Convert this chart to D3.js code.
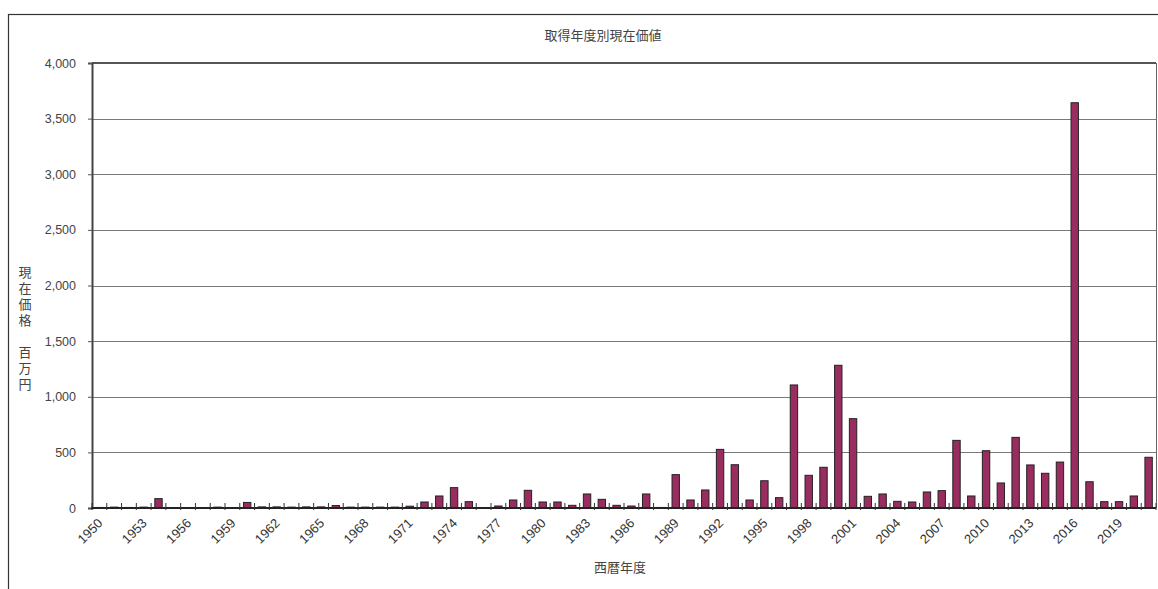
<!DOCTYPE html>
<html>
<head>
<meta charset="utf-8">
<script src="https://cdn.jsdelivr.net/npm/d3@7"></script>
<style>
  html, body { margin: 0; padding: 0; background: #fff; }
  svg { display: block; }
</style>
</head>
<body>
<svg id="chart" width="1158" height="589"></svg>
<script>
const years = d3.range(1950, 2022);
const values = [
  5, 8, 5, 8, 84, 2, 2, 3, 8, 3,
  50, 10, 10, 8, 10, 10, 22, 8, 8, 8,
  8, 16, 54, 108, 183, 57, 4, 18, 72, 159,
  54, 54, 24, 126, 78, 24, 18, 126, 5, 300,
  72, 162, 527, 389, 72, 245, 93, 1106, 294, 366,
  1283, 803, 105, 126, 60, 54, 144, 156, 608, 108,
  515, 225, 635, 387, 312, 413, 3643, 236, 57, 57,
  108, 456
];
const yTicks = [0, 500, 1000, 1500, 2000, 2500, 3000, 3500, 4000];
const labelYears = years.filter((y, i) => i % 3 === 0);
const title = "取得年度別現在価値";
const xTitle = "西暦年度";
const yTitle = "現在価格　百万円";

(function () {
const svg = d3.select("#chart");
const pL = 92, pR = 1156, pT = 63, pB = 508;
const jpFont = "'Noto Sans CJK JP', sans-serif";
const numFont = "'Liberation Sans', Arial, sans-serif";

// outer frame
svg.append("rect").attr("x", 8.5).attr("y", 14.5).attr("width", 1170).attr("height", 600)
  .attr("fill", "none").attr("stroke", "#333").attr("stroke-width", 1.2);

const x = d3.scaleBand().domain(years).range([pL, pR]).paddingInner(0.5).paddingOuter(0.25);
const y = d3.scaleLinear().domain([0, 4000]).range([pB, pT]);

// gridlines
svg.append("g").selectAll("line").data(yTicks.filter(v => v > 0 && v < 4000)).join("line")
  .attr("x1", pL).attr("x2", pR)
  .attr("y1", d => Math.round(y(d)) + 0.5).attr("y2", d => Math.round(y(d)) + 0.5)
  .attr("stroke", "#7a7a7a").attr("stroke-width", 1);

// top and right border of plot
svg.append("line").attr("x1", pL).attr("x2", pR).attr("y1", y(4000)).attr("y2", y(4000))
  .attr("stroke", "#555").attr("stroke-width", 2);
svg.append("line").attr("x1", pR + 0.5).attr("x2", pR + 0.5).attr("y1", pT).attr("y2", pB)
  .attr("stroke", "#666").attr("stroke-width", 1);

// bars
svg.append("g").selectAll("rect").data(years).join("rect")
  .attr("x", d => x(d))
  .attr("width", x.bandwidth())
  .attr("y", (d, i) => y(values[i]))
  .attr("height", (d, i) => pB - y(values[i]))
  .attr("fill", "#992d60")
  .attr("stroke", "#222")
  .attr("stroke-width", 1);

// y axis
const yAxis = d3.axisLeft(y).tickValues(yTicks).tickSize(4).tickPadding(12)
  .tickFormat(d3.format(","));
const yg = svg.append("g").attr("transform", `translate(${pL},0)`).call(yAxis);
yg.select(".domain").attr("stroke", "#444").attr("stroke-width", 2);
yg.selectAll(".tick line").attr("stroke", "#555");
yg.selectAll(".tick text").attr("font-family", numFont).attr("font-size", 12.5).attr("fill", "#444");

// x axis baseline
svg.append("line").attr("x1", pL - 1).attr("x2", pR).attr("y1", pB).attr("y2", pB)
  .attr("stroke", "#222").attr("stroke-width", 2);

// category boundary ticks
const gap = (x.step() - x.bandwidth()) / 2;
const bounds = years.map(d => x(d) - gap).concat([x(years[years.length - 1]) + x.bandwidth() + gap]);
svg.append("g").selectAll("line").data(bounds).join("line")
  .attr("x1", d => d).attr("x2", d => d)
  .attr("y1", pB - 5).attr("y2", pB + 2)
  .attr("stroke", "#333").attr("stroke-width", 1);

// x labels
svg.append("g").selectAll("text").data(labelYears).join("text")
  .attr("transform", d => `translate(${x(d) + x.bandwidth() / 2 + 4},${pB + 16}) rotate(-45)`)
  .attr("text-anchor", "end")
  .attr("font-family", numFont).attr("font-size", 13).attr("fill", "#333")
  .text(d => d);

// title
svg.append("text").attr("x", 603).attr("y", 40).attr("text-anchor", "middle")
  .attr("font-family", jpFont).attr("font-size", 13).attr("fill", "#444").text(title);

// x title
svg.append("text").attr("x", 620).attr("y", 572).attr("text-anchor", "middle")
  .attr("font-family", jpFont).attr("font-size", 13).attr("fill", "#444").text(xTitle);

// y title (vertical)
svg.append("text")
  .attr("x", 25).attr("y", 266)
  .style("writing-mode", "vertical-rl")
  .style("text-orientation", "upright")
  .attr("letter-spacing", 3)
  .attr("font-family", jpFont).attr("font-size", 13)
  .attr("fill", "#444")
  .text(yTitle);
})();
</script>
</body>
</html>
